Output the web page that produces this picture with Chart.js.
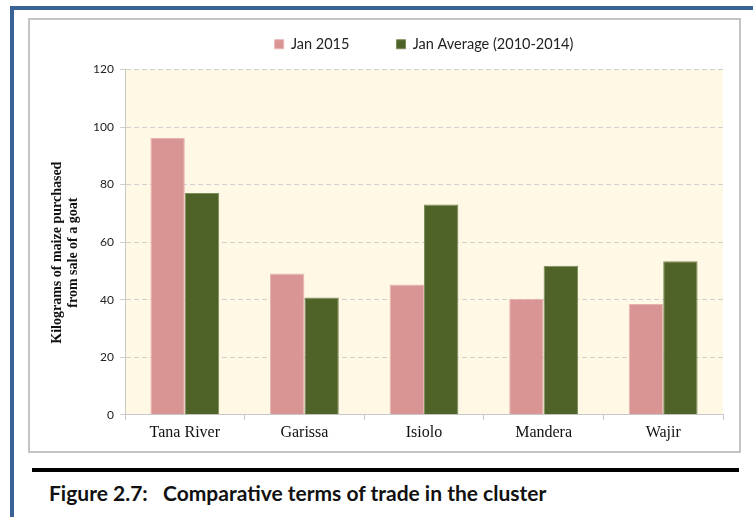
<!DOCTYPE html>
<html>
<head>
<meta charset="utf-8">
<script src="https://cdn.jsdelivr.net/npm/chart.js@4.4.0/dist/chart.umd.min.js"></script>
<style>
    html, body { margin: 0; padding: 0; background: #fff; }
    body { width: 753px; height: 517px; position: relative; overflow: hidden; }
    .frame {
        position: absolute; left: 10px; top: 6px; width: 760px; height: 530px;
        border-left: 4px solid #3a6294; border-top: 4px solid #3a6294;
    }
    .chart-box {
        position: absolute; left: 28px; top: 18px; width: 709px; height: 431px;
        border: 2px solid #c4c4c4;
    }
    .chart-box canvas { position: absolute; left: 0; top: 0; }
    .rule { position: absolute; left: 32px; top: 468px; width: 707px; height: 4px; background: #000; }
    .caption {
        position: absolute; left: 49px; top: 480px;
        font-family: Lato, "Open Sans", sans-serif; font-weight: bold; font-size: 21px; color: #111;
        white-space: pre;
    }
</style>
</head>
<body>
<div class="frame"></div>
<div class="chart-box"><canvas id="tradeChart" width="709" height="431"></canvas></div>
<div class="rule"></div>
<div class="caption">Figure 2.7:   Comparative terms of trade in the cluster</div>

<script>
// data
const counties = ['Tana River', 'Garissa', 'Isiolo', 'Mandera', 'Wajir'];
const jan2015 = [96.2, 49.1, 45.3, 40.3, 38.5];
const janAverage = [77.1, 40.8, 73.1, 51.8, 53.4];
const yTicks = [0, 20, 40, 60, 80, 100, 120];

// cream plot background
const plotBg = {
    id: 'plotBg',
    beforeDraw(chart) {
        const { ctx, chartArea: a } = chart;
        ctx.save();
        ctx.fillStyle = '#fff8e4';
        ctx.fillRect(a.left, a.top, a.right - a.left, a.bottom - a.top);
        ctx.restore();
    }
};

// a bit more room under the legend
const legendGap = {
    id: 'legendGap',
    afterInit(chart) {
        const fit = chart.legend.fit;
        chart.legend.fit = function () {
            fit.call(this);
            this.height += 8;
        };
    }
};

const ctx = document.getElementById('tradeChart').getContext('2d');
new Chart(ctx, {
    type: 'bar',
    data: {
        labels: counties,
        datasets: [
            { label: 'Jan 2015', data: jan2015, backgroundColor: '#d99594', borderColor: '#e8b4b3', borderWidth: 1 },
            { label: 'Jan Average (2010-2014)', data: janAverage, backgroundColor: '#4f6228', borderColor: '#7d8d5c', borderWidth: 1 }
        ]
    },
    options: {
        responsive: false,
        animation: false,
        layout: { padding: { left: 0, right: 16, top: 7, bottom: 6 } },
        datasets: { bar: { categoryPercentage: 0.575, barPercentage: 1 } },
        plugins: {
            legend: {
                position: 'top',
                fullSize: false,
                labels: {
                    boxWidth: 9, boxHeight: 9, padding: 10,
                    color: '#222',
                    font: { family: 'Lato, "Open Sans", sans-serif', size: 14.5 },
                    // wider gap between the two entries without a taller legend
                    generateLabels(chart) {
                        const items = Chart.defaults.plugins.legend.labels.generateLabels(chart);
                        if (items[0]) items[0].text += '          ';
                        return items;
                    }
                }
            },
            tooltip: { enabled: false }
        },
        scales: {
            x: {
                grid: { offset: true, drawOnChartArea: false, color: '#c8c8c8', tickLength: 5 },
                border: { color: '#c8c8c8' },
                ticks: { color: '#111', padding: 3, font: { family: '"Liberation Serif", "DejaVu Serif", serif', size: 16 } }
            },
            y: {
                min: 0, max: 120,
                afterBuildTicks(scale) { scale.ticks = yTicks.map(v => ({ value: v })); },
                afterFit(scale) { scale.width = 95; },
                grid: { color: '#cfcfcf', tickLength: 5, tickBorderDash: [] },
                border: { color: '#c8c8c8', dash: [5, 3] },
                ticks: { color: '#222', padding: 6, font: { family: 'Lato, "Open Sans", sans-serif', size: 12 } },
                title: {
                    display: true,
                    text: ['Kilograms of maize purchased      ', 'from sale of a goat      '],
                    color: '#111',
                    padding: { top: 19, bottom: 0 },
                    font: { family: '"Liberation Serif", "DejaVu Serif", serif', size: 14, weight: 'bold', lineHeight: 1.15 }
                }
            }
        }
    },
    plugins: [plotBg, legendGap]
});
</script>
</body>
</html>
